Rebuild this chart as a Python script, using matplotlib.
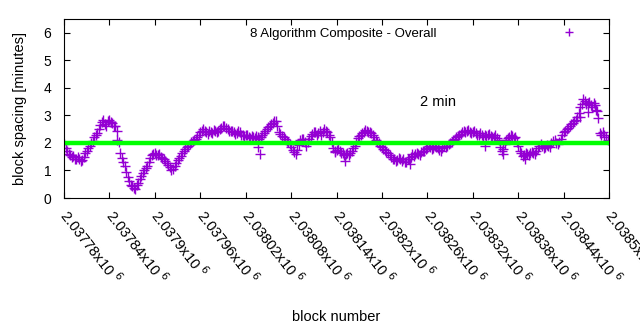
import matplotlib
matplotlib.use("Agg")
import matplotlib.pyplot as plt
import numpy as np

plt.rcParams['font.family'] = ['Liberation Sans', 'DejaVu Sans']

# block numbers, samples every 4 blocks (two interleaved sets)
blocks = np.arange(2037780, 2038500, 4)
blocks_b = np.arange(2037782, 2038500, 4)

# block spacing in minutes
spacing = [
    1.95, 1.70, 1.55, 1.52, 1.42, 1.40, 1.38, 1.62, 1.82, 1.98,
    2.20, 2.35, 2.65, 2.82, 2.60, 2.85, 2.72, 2.60, 2.05, 1.45,
    1.18, 0.78, 0.48, 0.38, 0.46, 0.70, 0.92, 1.08, 1.30, 1.55,
    1.62, 1.55, 1.50, 1.40, 1.27, 1.12, 1.06, 1.28, 1.45, 1.62,
    1.78, 1.90, 2.02, 2.10, 2.20, 2.38, 2.50, 2.38, 2.45, 2.35,
    2.42, 2.45, 2.55, 2.60, 2.50, 2.45, 2.40, 2.35, 2.38, 2.30,
    2.28, 2.22, 2.25, 2.18, 2.22, 2.20, 2.35, 2.50, 2.62, 2.72,
    2.80, 2.40, 2.25, 2.15, 2.05, 1.85, 1.68, 1.75, 2.10, 2.15,
    1.90, 2.15, 2.32, 2.38, 2.35, 2.30, 2.50, 2.40, 2.20, 1.80,
    1.75, 1.70, 1.63, 1.58, 1.56, 1.72, 1.90, 2.18, 2.30, 2.38,
    2.45, 2.40, 2.30, 2.12, 1.98, 1.85, 1.75, 1.63, 1.48, 1.42,
    1.38, 1.42, 1.40, 1.32, 1.42, 1.58, 1.58, 1.60, 1.67, 1.72,
    1.80, 1.85, 1.82, 1.85, 1.75, 1.80, 1.85, 1.95, 2.05, 2.15,
    2.25, 2.32, 2.45, 2.42, 2.40, 2.40, 2.35, 2.30, 2.28, 2.30,
    2.28, 2.25, 2.22, 2.18, 1.85, 1.78, 2.10, 2.22, 2.25, 2.22,
    1.90, 1.62, 1.56, 1.60, 1.62, 1.65, 1.72, 1.90, 1.88, 1.86,
    1.90, 2.00, 2.10, 1.95, 2.15, 2.40, 2.50, 2.60, 2.72, 2.85,
    3.10, 3.42, 3.52, 3.45, 3.38, 3.45, 3.15, 2.35, 2.40, 2.20,
]

spacing_b = [
    1.80, 1.58, 1.48, 1.40, 1.50, 1.33, 1.48, 1.72, 1.90, 2.08,
    2.28, 2.50, 2.75, 2.68, 2.78, 2.75, 2.62, 2.45, 1.62, 1.30,
    0.95, 0.60, 0.42, 0.32, 0.55, 0.80, 1.00, 1.18, 1.45, 1.58,
    1.55, 1.60, 1.45, 1.33, 1.20, 1.03, 1.15, 1.38, 1.52, 1.70,
    1.85, 1.95, 2.08, 2.15, 2.30, 2.45, 2.42, 2.32, 2.40, 2.48,
    2.38, 2.52, 2.62, 2.55, 2.45, 2.42, 2.32, 2.42, 2.30, 2.25,
    2.30, 2.18, 2.20, 2.25, 2.15, 2.28, 2.42, 2.58, 2.68, 2.78,
    2.60, 2.32, 2.20, 2.08, 1.95, 1.75, 1.60, 1.92, 2.15, 2.05,
    2.05, 2.25, 2.40, 2.30, 2.42, 2.38, 2.45, 2.30, 2.05, 1.72,
    1.80, 1.62, 1.55, 1.65, 1.62, 1.82, 2.05, 2.25, 2.35, 2.48,
    2.38, 2.35, 2.22, 2.05, 1.90, 1.78, 1.68, 1.55, 1.40, 1.35,
    1.45, 1.35, 1.30, 1.40, 1.50, 1.52, 1.65, 1.55, 1.72, 1.78,
    1.88, 1.78, 1.90, 1.80, 1.70, 1.88, 1.90, 2.00, 2.12, 2.20,
    2.30, 2.40, 2.38, 2.48, 2.35, 2.45, 2.28, 2.35, 2.22, 2.25,
    2.32, 2.20, 2.28, 2.10, 1.72, 1.95, 2.18, 2.28, 2.18, 2.05,
    1.72, 1.52, 1.65, 1.55, 1.68, 1.60, 1.80, 1.95, 1.82, 1.92,
    1.85, 2.08, 1.98, 2.05, 2.28, 2.45, 2.55, 2.68, 2.80, 2.95,
    3.30, 3.58, 3.40, 3.50, 3.32, 3.38, 2.90, 2.28, 2.30, 2.12,
]

# stray points away from the main band
stray_blocks = [2037850, 2038036, 2038039, 2038138, 2038151, 2038237,
                2038336, 2038360, 2038389, 2038462, 2038472, 2038483]
stray_spacing = [2.10, 1.85, 1.60, 1.67, 1.35, 1.22,
                 1.90, 1.60, 1.40, 2.95, 3.12, 3.20]

target = 2.0
xticks = np.arange(2037780, 2038501, 60)
xmin, xmax = 2037780, 2038500

fig = plt.figure(figsize=(6.4, 3.3), dpi=100)
ax = fig.add_axes([0.1, 0.4, 0.8516, 0.5424])

purple = '#9400D3'
ax.plot(blocks, spacing, '+', color=purple, ms=7, mew=1.0,
        label='8 Algorithm Composite - Overall')
ax.plot(blocks_b, spacing_b, '+', color=purple, ms=7, mew=1.0)
ax.plot(stray_blocks, stray_spacing, '+', color=purple, ms=7, mew=1.0)
ax.plot([xmin, xmax], [target, target], color='#00FF00', lw=3.2)

ax.text(2038274, 3.5, '2 min', ha='center', va='center', fontsize=10.5)

ax.set_xlim(xmin, xmax)
ax.set_ylim(0, 6.5)
ax.set_yticks(range(0, 7))
ax.set_xticks(xticks)
ax.set_xticklabels([f"{v / 1e6:g}x10 $^{{6}}$" for v in xticks],
                   rotation=-52, ha='left', va='center', rotation_mode='anchor')
ax.tick_params(direction='in', length=4.5, width=0.8, top=True, right=True,
               labelsize=10)
ax.tick_params(axis='x', labelsize=10.5, pad=10)
ax.tick_params(axis='y', pad=9)

ax.set_xlabel('block number', fontsize=10.5)
ax.xaxis.set_label_coords(0.5, -0.625)
ax.set_ylabel('block spacing [minutes]', fontsize=10.5)
ax.yaxis.set_label_coords(-0.068, 0.5)

ax.legend(loc='upper right', markerfirst=False, frameon=False, fontsize=9.5,
          handlelength=4.8, handletextpad=7.6, borderaxespad=0.25,
          markerscale=0.8)

fig.savefig('out.png', dpi=100)
